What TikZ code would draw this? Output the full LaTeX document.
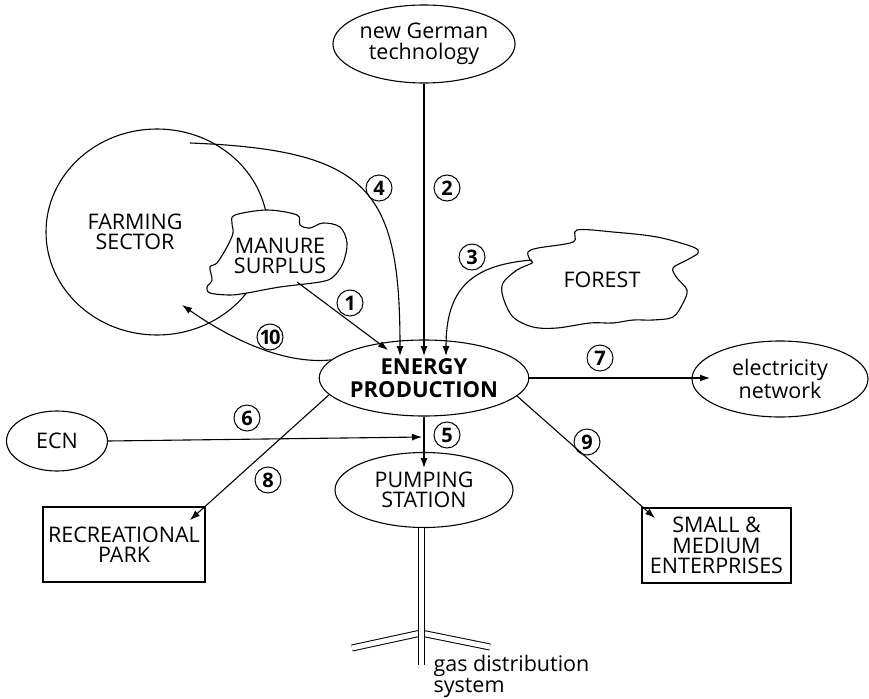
\documentclass[tikz,border=0pt]{standalone}
\usepackage{fontspec}
\setmainfont{Open Sans}
\usetikzlibrary{shapes.geometric,arrows.meta,calc}
\begin{document}
\begin{tikzpicture}[x=1pt,y=-1pt,line width=1.1pt,
  txt/.style={font=\fontsize{21.5}{20.5}\selectfont, align=center, inner sep=0pt},
  oval/.style={draw, ellipse, inner sep=0pt, txt},
  boxnode/.style={draw, rectangle, inner sep=0pt, txt},
  flow/.style={-{Latex[length=10pt,width=7pt]}},
  num/.style={draw, circle, minimum size=26pt, inner sep=0pt, line width=1pt,
    font=\bfseries\fontsize{20}{20}\selectfont},
  blob/.style={draw, fill=white, smooth cycle, tension=0.55},
  pipe/.style={double, double distance=5pt, line width=1pt}]
\useasboundingbox (0,0) rectangle (869,698);

% farming sector with the manure surplus inside it
\node[draw, ellipse, minimum width=222pt, minimum height=206pt, inner sep=0pt] (farm) at (157,232) {};
\node[txt] (farmtxt) at (135,232) {FARMING\\SECTOR};
\draw[blob] plot coordinates {(235,215) (267,210) (297,215) (300,225) (310,228) (323,223)
  (340,227) (347,243) (343,263) (333,277) (320,282) (280,287) (247,293) (230,295)
  (210,293) (207,287) (212,280) (210,267) (217,263) (227,247) (233,233) (232,223)};
\node[txt] (manure) at (280,256) {MANURE\\SURPLUS};

% forest
\draw[blob] plot coordinates {(530,260) (528,252) (538,248) (573,242) (577,230) (613,232)
  (657,237) (693,247) (698,253) (687,260) (673,268) (677,278) (687,290) (683,303)
  (673,317) (653,320) (633,320) (613,323) (590,323) (557,328) (533,327) (513,317)
  (503,297) (503,283) (517,270) (532,263)};
\node[txt] (forest) at (602,280) {FOREST};

% main nodes
\node[oval, minimum width=175pt, minimum height=78pt] (german) at (424,44) {new German\\technology};
\node[oval, minimum width=178pt, minimum height=76pt,
  font=\bfseries\fontsize{22}{23}\selectfont] (energy) at (424,378) {ENERGY\\PRODUCTION};
\node[oval, minimum width=176pt, minimum height=76pt] (elec) at (780,379) {electricity\\network};
\node[oval, minimum width=101pt, minimum height=60pt] (ecn) at (57,441) {ECN};
\node[oval, minimum width=178pt, minimum height=75pt] (pumping) at (424,490) {PUMPING\\STATION};
\node[boxnode, minimum width=162pt, minimum height=75pt] (park) at (124,544.5) {RECREATIONAL\\PARK};
\node[boxnode, minimum width=149pt, minimum height=75pt] (sme) at (716.5,545.5) {SMALL \&\\MEDIUM\\ENTERPRISES};

% connector ends
\coordinate (farmout) at (190,143);
\coordinate (manureout) at (297,282);
\coordinate (forestout) at (532,260);
\coordinate (in1) at (388,350);
\coordinate (in2) at (424,356);
\coordinate (in3) at (446,356);
\coordinate (in4) at (400,356);
\coordinate (farmin) at (182,305);
\coordinate (pumpin) at (424,468);
\coordinate (joint) at (422,437);
\coordinate (elecin) at (710,378);
\coordinate (parkin) at (190,520);
\coordinate (smein) at (655,518);

% flows
\draw[flow] (manureout) -- (in1);
\draw[flow] (german.south) -- (in2);
\draw[flow] (forestout) .. controls (470,265) and (446,290) .. (in3);
\draw[flow] (farmout) .. controls (370,150) and (400,190) .. (in4);
\draw[flow] (energy.south) -- (pumpin);
\draw[flow] (ecn.east) -- (joint);
\draw[flow] (energy.east) -- (elecin);
\draw[flow] (energy.190) -- (parkin);
\draw[flow] (energy.349) -- (smein);
\draw[flow] (energy.169) .. controls (280,365) and (225,335) .. (farmin);

% gas distribution pipes
\coordinate (jn) at (421,633);
\draw[pipe] (jn) -- (352,648);
\draw[pipe] (jn) -- (490,647);
\draw[pipe] (jn |- pumping.south) -- (421,665);
\node[txt, anchor=north west, align=left] (gas) at (433,655) {gas distribution\\system};

% flow numbers
\node[num] (n1) at (350,303) {1};
\node[num] (n2) at (447,188) {2};
\node[num] (n3) at (472,257) {3};
\node[num] (n4) at (379,188) {4};
\node[num] (n5) at (447,435) {5};
\node[num] (n6) at (247,418) {6};
\node[num] (n7) at (600,358) {7};
\node[num] (n8) at (268,480) {8};
\node[num] (n9) at (587,442) {9};
\node[num] (n10) at (270,337) {\kern-1pt1\kern-2pt0\kern-1pt};
\end{tikzpicture}
\end{document}
